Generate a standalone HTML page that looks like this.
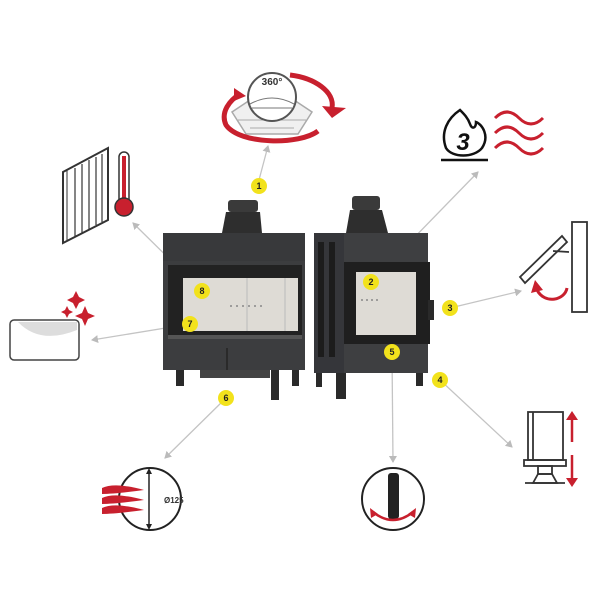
<!DOCTYPE html>
<html><head><meta charset="utf-8"><style>
html,body{margin:0;padding:0;background:#fff;}
svg{display:block;}
text{font-family:"Liberation Sans",sans-serif;}
</style></head><body>
<svg width="600" height="600" viewBox="0 0 600 600" xmlns="http://www.w3.org/2000/svg">
<defs>
<marker id="ah" markerWidth="8" markerHeight="8" refX="6" refY="4" orient="auto" markerUnits="userSpaceOnUse">
<path d="M0,0 L7,4 L0,8 z" fill="#bbb"/></marker>
</defs>

<g stroke="#c4c4c4" stroke-width="1.3" fill="none" marker-end="url(#ah)">
<line x1="259" y1="180" x2="268" y2="146"/>
<line x1="371" y1="282" x2="478" y2="172"/>
<line x1="450" y1="308" x2="521" y2="291"/>
<line x1="440" y1="380" x2="512" y2="447"/>
<line x1="392" y1="352" x2="393" y2="462"/>
<line x1="226" y1="398" x2="165" y2="458"/>
<line x1="190" y1="324" x2="92" y2="340"/>
<line x1="202" y1="291" x2="133" y2="223"/>
</g>

<g>
<rect x="228" y="200" width="30" height="12" rx="3" fill="#3a3a3a"/>
<path d="M226,212 L260,212 L262,233 L222,233 Z" fill="#2e2e2e"/>
<rect x="163" y="233" width="142" height="137" fill="#3c3d3f"/>
<rect x="163" y="233" width="142" height="28" fill="#38393b"/>
<rect x="168" y="265" width="134" height="70" fill="#222"/>
<rect x="183" y="278" width="115" height="53" fill="#dedbd5"/>
<line x1="247" y1="278" x2="247" y2="331" stroke="#bbb"/>
<line x1="285" y1="278" x2="285" y2="331" stroke="#bbb"/>
<g fill="#888"><circle cx="231" cy="306" r="1"/><circle cx="237" cy="306" r="1"/><circle cx="243" cy="306" r="1"/><circle cx="249" cy="306" r="1"/><circle cx="255" cy="306" r="1"/><circle cx="261" cy="306" r="1"/></g>
<rect x="168" y="335" width="134" height="4" fill="#555"/>
<line x1="227" y1="348" x2="227" y2="370" stroke="#2a2a2a" stroke-width="2"/>
<rect x="176" y="370" width="8" height="16" fill="#2a2a2a"/>
<rect x="271" y="370" width="8" height="30" fill="#2a2a2a"/>
<rect x="292" y="370" width="7" height="16" fill="#2a2a2a"/>
<rect x="200" y="370" width="70" height="8" fill="#444"/>
</g>

<g>
<rect x="352" y="196" width="28" height="14" rx="3" fill="#3a3a3a"/>
<path d="M350,210 L382,210 L388,233 L346,233 Z" fill="#2e2e2e"/>
<rect x="314" y="233" width="114" height="140" fill="#3e3f41"/>
<rect x="314" y="233" width="30" height="140" fill="#35363a"/>
<rect x="318" y="242" width="6" height="115" fill="#1c1c1c"/>
<rect x="329" y="242" width="6" height="115" fill="#1c1c1c"/>
<rect x="344" y="262" width="86" height="82" fill="#1f1f1f"/>
<rect x="356" y="272" width="60" height="63" fill="#dedbd5"/>
<g fill="#888"><circle cx="362" cy="300" r="1"/><circle cx="367" cy="300" r="1"/><circle cx="372" cy="300" r="1"/><circle cx="377" cy="300" r="1"/></g>
<rect x="428" y="300" width="6" height="20" fill="#2a2a2a"/>
<rect x="316" y="373" width="6" height="14" fill="#2a2a2a"/>
<rect x="336" y="373" width="10" height="26" fill="#2a2a2a"/>
<rect x="416" y="373" width="7" height="13" fill="#2a2a2a"/>
</g>

<g font-size="9" font-weight="bold" text-anchor="middle" fill="#222">
<g fill="#f2e21c">
<circle cx="259" cy="186" r="8"/><circle cx="371" cy="282" r="8"/><circle cx="450" cy="308" r="8"/>
<circle cx="440" cy="380" r="8"/><circle cx="392" cy="352" r="8"/><circle cx="226" cy="398" r="8"/>
<circle cx="190" cy="324" r="8"/><circle cx="202" cy="291" r="8"/>
</g>
<text x="259" y="189">1</text><text x="371" y="285">2</text><text x="450" y="311">3</text>
<text x="440" y="383">4</text><text x="392" y="355">5</text><text x="226" y="401">6</text>
<text x="190" y="327">7</text><text x="202" y="294">8</text>
</g>

<g>
<path d="M250,100 L294,100 L312,112 L298,134 L246,134 L232,112 Z" fill="#f0f0f0" stroke="#aaa" stroke-width="1.5"/>
<path d="M238,120 L306,120 M250,128 L294,128" stroke="#aaa" fill="none"/>
<circle cx="272" cy="97" r="24" fill="#fff" stroke="#555" stroke-width="2"/>
<path d="M250,104 Q272,92 294,104" fill="none" stroke="#777"/>
<line x1="252" y1="108" x2="292" y2="108" stroke="#777"/>
<text x="272" y="85" font-size="10" font-weight="bold" text-anchor="middle" fill="#333">360°</text>
<path d="M318,131 C300,145 240,145 226,125 C220,112 230,100 240,94" fill="none" stroke="#c8202e" stroke-width="5"/>
<path d="M234,88 L246,96 L234,101 Z" fill="#c8202e"/>
<path d="M290,75 C315,78 335,92 332,108" fill="none" stroke="#c8202e" stroke-width="5"/>
<path d="M322,106 L346,108 L332,118 Z" fill="#c8202e"/>
</g>

<g>
<path d="M460,110 C448,118 440,132 446,148 C452,158 474,158 482,148 C490,136 482,124 476,122 C476,128 472,130 470,124 C468,118 464,114 460,110 Z" fill="#fff" stroke="#111" stroke-width="2.5"/>
<text x="463" y="150" font-size="24" font-weight="bold" font-style="italic" text-anchor="middle" fill="#111">3</text>
<line x1="441" y1="160" x2="488" y2="160" stroke="#111" stroke-width="2.5"/>
<g fill="none" stroke="#c8202e" stroke-width="3">
<path d="M495,118 q12,-12 24,0 t24,0"/>
<path d="M495,133 q12,-12 24,0 t24,0"/>
<path d="M495,148 q12,-12 24,0 t24,0"/>
</g>
</g>

<g>
<path d="M63,172 L108,148 L108,220 L63,243 Z" fill="#fff" stroke="#333" stroke-width="2"/>
<path d="M63,172 L67,170 L67,241" fill="none" stroke="#333"/>
<g stroke="#333" stroke-width="1.2"><line x1="75" y1="168" x2="75" y2="236"/><line x1="82" y1="164" x2="82" y2="233"/><line x1="89" y1="160" x2="89" y2="229"/><line x1="96" y1="157" x2="96" y2="225"/><line x1="102" y1="154" x2="102" y2="222"/></g>
<rect x="119" y="152" width="10" height="58" rx="5" fill="#fff" stroke="#333" stroke-width="1.5"/>
<rect x="122" y="156" width="4" height="52" fill="#c8202e"/>
<circle cx="124" cy="207" r="9" fill="#c8202e" stroke="#333" stroke-width="1.5"/>
</g>

<g>
<rect x="10" y="320" width="69" height="40" rx="4" fill="#fff" stroke="#444" stroke-width="1.5"/>
<path d="M18,322 Q40,345 77,330 L77,322 Z" fill="#ddd"/>
<g fill="#c8202e">
<path d="M76,291 l3,6 l6,3 l-6,3 l-3,6 l-3,-6 l-6,-3 l6,-3 z"/>
<path d="M67,306 l2,4 l4,2 l-4,2 l-2,4 l-2,-4 l-4,-2 l4,-2 z"/>
<path d="M85,306 l3,7 l7,3 l-7,3 l-3,7 l-3,-7 l-7,-3 l7,-3 z"/>
</g>
</g>

<g fill="none" stroke="#333" stroke-width="1.8">
<rect x="572" y="222" width="15" height="90" fill="#fff"/>
<path d="M520,277 L562,236 L567,242 L525,283 Z" fill="#fff"/>
<line x1="553" y1="251" x2="569" y2="252"/>
</g>
<path d="M567,288 C565,300 545,305 537,290" fill="none" stroke="#c8202e" stroke-width="3"/>
<path d="M531,293 L535,280 L543,290 Z" fill="#c8202e"/>

<g fill="none" stroke="#333" stroke-width="1.8">
<rect x="528" y="412" width="35" height="48" fill="#fff"/>
<line x1="533" y1="412" x2="533" y2="460"/>
<rect x="524" y="460" width="42" height="6"/>
<rect x="538" y="466" width="14" height="8"/>
<path d="M533,483 L538,474 L552,474 L557,483 Z"/>
<line x1="525" y1="483" x2="565" y2="483"/>
</g>
<g stroke="#c8202e" stroke-width="2.5" fill="none"><line x1="572" y1="417" x2="572" y2="442"/><line x1="572" y1="455" x2="572" y2="481"/></g>
<path d="M566,420 L572,411 L578,420 Z M566,478 L572,487 L578,478 Z" fill="#c8202e"/>

<g>
<circle cx="150" cy="499" r="31" fill="#fff" stroke="#222" stroke-width="2"/>
<line x1="149" y1="472" x2="149" y2="526" stroke="#222" stroke-width="1.5"/>
<path d="M146,474 L149,468 L152,474 Z M146,524 L149,530 L152,524 Z" fill="#222"/>
<text x="164" y="503" font-size="8" font-weight="bold" fill="#333">Ø125</text>
<g fill="#c8202e">
<path d="M102,488 Q115,482 144,490 Q115,494 102,494 Z"/>
<path d="M102,498 Q115,492 144,500 Q115,504 102,504 Z"/>
<path d="M102,508 Q115,502 144,510 Q115,514 102,514 Z"/>
</g>
</g>

<g>
<circle cx="393" cy="499" r="31" fill="#fff" stroke="#222" stroke-width="2"/>
<rect x="388" y="473" width="11" height="46" rx="3" fill="#222"/>
<path d="M373,512 Q393,528 413,512" fill="none" stroke="#c8202e" stroke-width="2.5"/>
<path d="M370,508 L371,518 L378,514 Z M416,508 L415,518 L408,514 Z" fill="#c8202e"/>
</g>
</svg>
</body></html>
